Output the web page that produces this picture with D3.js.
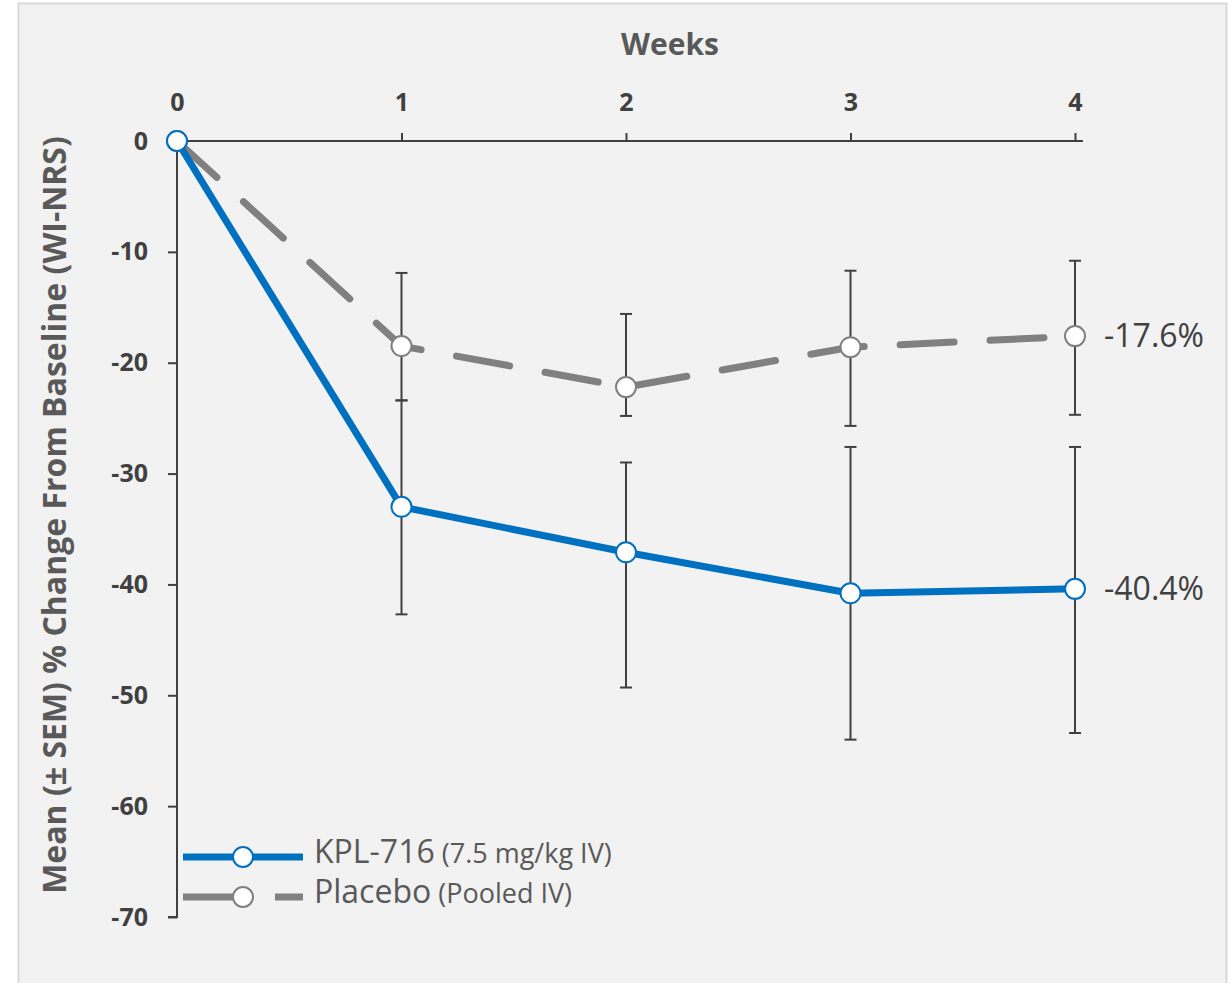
<!DOCTYPE html>
<html>
<head>
<meta charset="utf-8">
<script src="https://cdn.jsdelivr.net/npm/d3@7"></script>
<style>
  html, body { margin: 0; padding: 0; background: #ffffff; }
  svg { display: block; font-family: "Open Sans", "Segoe UI", sans-serif; }
</style>
</head>
<body>
<svg id="chart" width="1232" height="983"></svg>
<script>
// Weeks on study
const weeks = [0, 1, 2, 3, 4];
const weekTicks = [0, 1, 2, 3, 4];
const yTicks = [0, -10, -20, -30, -40, -50, -60, -70];

// KPL-716 (7.5 mg/kg IV): mean % change and SEM bar ends
const kplMean  = [0, -33.0, -37.1, -40.8, -40.4];
const kplUpper = [null, -23.4, -29.0, -27.6, -27.6];
const kplLower = [null, -42.7, -49.3, -54.0, -53.4];

// Placebo (pooled IV)
const pboMean  = [0, -18.5, -22.2, -18.6, -17.6];
const pboUpper = [null, -11.9, -15.6, -11.7, -10.8];
const pboLower = [null, -23.4, -24.8, -25.7, -24.7];

// End-of-study labels
const endLabels = ["-40.4%", "-17.6%"];

const svg = d3.select("#chart");

// panel background
svg.append("rect")
  .attr("x", 18.5).attr("y", 3.5)
  .attr("width", 1208).attr("height", 990)
  .attr("fill", "#f2f2f2")
  .attr("stroke", "#d9d9d9").attr("stroke-width", 2);

const x = d3.scaleLinear().domain([0, 4]).range([177, 1075]);
const y = d3.scaleLinear().domain([0, -70]).range([141, 917]);

const axisColor = "#404040";
const textColor = "#404040";
const plain = d => String(d);

// top (weeks) axis
const xAxis = d3.axisTop(x).tickValues(weekTicks).tickSize(8).tickPadding(22)
  .tickFormat(plain);
const gx = svg.append("g").attr("transform", `translate(0,${y(0)})`).call(xAxis);
gx.select(".domain").attr("d", `M${x(0)},0H${x(4) + 8}`)
  .attr("stroke", axisColor).attr("stroke-width", 2);
gx.selectAll(".tick line").attr("stroke", axisColor).attr("stroke-width", 2);
gx.selectAll(".tick text")
  .attr("fill", textColor).attr("font-size", 25).attr("font-weight", 700)
  .attr("font-family", "'Open Sans', sans-serif");

svg.append("text")
  .attr("x", 670).attr("y", 55)
  .attr("text-anchor", "middle")
  .attr("fill", "#595959")
  .attr("font-size", 30).attr("font-weight", 700)
  .text("Weeks");

// left axis
const yAxis = d3.axisLeft(y).tickValues(yTicks).tickSize(9).tickPadding(20)
  .tickFormat(plain);
const gy = svg.append("g").attr("transform", `translate(${x(0)},0)`).call(yAxis);
gy.select(".domain").attr("d", `M0,${y(0)}V${y(-70)}H-9`)
  .attr("stroke", axisColor).attr("stroke-width", 2);
gy.selectAll(".tick line").attr("stroke", axisColor).attr("stroke-width", 2);
gy.selectAll(".tick").filter(d => d === 0).select("line").remove();
gy.selectAll(".tick text")
  .attr("fill", textColor).attr("font-size", 25).attr("font-weight", 700)
  .attr("font-family", "'Open Sans', sans-serif");

svg.append("text")
  .attr("transform", `translate(66,515) rotate(-90)`)
  .attr("text-anchor", "middle")
  .attr("fill", "#595959")
  .attr("font-size", 32).attr("font-weight", 700)
  .text("Mean (\u00B1 SEM) % Change From Baseline (WI-NRS)");

// series definitions
const series = [
  { mean: kplMean, upper: kplUpper, lower: kplLower, color: "#0070c0",
    width: 7, dash: null, label: endLabels[0] },
  { mean: pboMean, upper: pboUpper, lower: pboLower, color: "#808080",
    width: 7, dash: "54 36", label: endLabels[1] }
];

const line = d3.line().x((d, i) => x(weeks[i])).y(d => y(d));

// error bars
const errG = svg.append("g");
series.forEach(s => {
  weeks.forEach((w, i) => {
    if (s.upper[i] === null) return;
    const cx = x(w);
    errG.append("line")
      .attr("x1", cx).attr("x2", cx)
      .attr("y1", y(s.upper[i])).attr("y2", y(s.lower[i]))
      .attr("stroke", axisColor).attr("stroke-width", 2);
    [s.upper[i], s.lower[i]].forEach(v => {
      errG.append("line")
        .attr("x1", cx - 6).attr("x2", cx + 6)
        .attr("y1", y(v)).attr("y2", y(v))
        .attr("stroke", axisColor).attr("stroke-width", 2);
    });
  });
});

// lines (placebo drawn first, KPL on top)
[series[1], series[0]].forEach(s => {
  svg.append("path")
    .datum(s.mean)
    .attr("d", line)
    .attr("fill", "none")
    .attr("stroke", s.color)
    .attr("stroke-width", s.width)
    .attr("stroke-linecap", "round")
    .attr("stroke-linejoin", "round")
    .attr("stroke-dasharray", s.dash);
});

// markers
[series[1], series[0]].forEach(s => {
  svg.append("g").selectAll("circle")
    .data(s.mean)
    .join("circle")
    .attr("cx", (d, i) => x(weeks[i]))
    .attr("cy", d => y(d))
    .attr("r", 10)
    .attr("fill", "#ffffff")
    .attr("stroke", s.color)
    .attr("stroke-width", 2);
});

// end labels
series.forEach(s => {
  const last = s.mean.length - 1;
  svg.append("text")
    .attr("x", x(weeks[last]) + 29)
    .attr("y", y(s.mean[last]))
    .attr("dy", "0.35em")
    .attr("fill", textColor)
    .attr("font-size", 32)
    .text(s.label);
});

// legend
const legend = svg.append("g");
const legendRows = [
  { s: series[0], y: 857, name: "KPL-716", note: " (7.5 mg/kg IV)" },
  { s: series[1], y: 897, name: "Placebo", note: " (Pooled IV)" }
];
legendRows.forEach(r => {
  if (r.s.dash) {
    legend.append("line")
      .attr("x1", 183).attr("x2", 243).attr("y1", r.y).attr("y2", r.y)
      .attr("stroke", r.s.color).attr("stroke-width", r.s.width);
    legend.append("line")
      .attr("x1", 275).attr("x2", 303).attr("y1", r.y).attr("y2", r.y)
      .attr("stroke", r.s.color).attr("stroke-width", r.s.width);
  } else {
    legend.append("line")
      .attr("x1", 183).attr("x2", 303).attr("y1", r.y).attr("y2", r.y)
      .attr("stroke", r.s.color).attr("stroke-width", r.s.width);
  }
  legend.append("circle")
    .attr("cx", 243).attr("cy", r.y).attr("r", 10)
    .attr("fill", "#ffffff").attr("stroke", r.s.color).attr("stroke-width", 2);
  const t = legend.append("text")
    .attr("x", 314).attr("y", r.y).attr("dy", "0.35em")
    .attr("fill", "#595959");
  t.append("tspan").attr("font-size", 32).text(r.name);
  t.append("tspan").attr("font-size", 27).text(r.note);
});
</script>
</body>
</html>
